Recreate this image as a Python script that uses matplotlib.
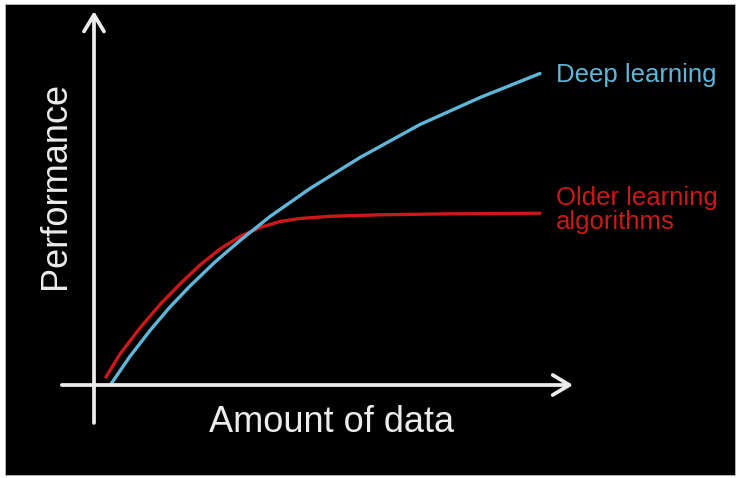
import matplotlib.pyplot as plt
from matplotlib.patches import Rectangle

plt.rcParams["font.family"] = ["Liberation Sans", "DejaVu Sans"]

# amount of data (x) vs performance (y)
deep_x = [0.354, 0.75, 1.167, 1.583, 2.0, 2.521, 3.042, 3.667, 4.5, 5.542,
          6.792, 8.042, 9.292]
deep_y = [0.027, 0.77, 1.465, 2.097, 2.661, 3.306, 3.884, 4.53, 5.282, 6.116,
          7.003, 7.728, 8.374]

older_x = [0.25, 0.542, 0.958, 1.375, 1.792, 2.208, 2.625, 3.042, 3.458, 3.875,
           4.292, 4.917, 5.958, 7.417, 9.292]
older_y = [0.215, 0.833, 1.532, 2.164, 2.715, 3.226, 3.656, 3.992, 4.234, 4.395,
           4.476, 4.535, 4.575, 4.602, 4.618]

labels = ["Deep learning", "Older learning\nalgorithms"]
x_title = "Amount of data"
y_title = "Performance"

blue = "#5fb6d8"
red = "#cc1818"
white = "#ececec"

fig = plt.figure(figsize=(7.41, 4.78), dpi=100, facecolor="white")
fig.patches.append(Rectangle((5 / 741, 3 / 478), 730 / 741, 471 / 478,
                             transform=fig.transFigure, facecolor="black",
                             edgecolor="#bbbbbb", linewidth=0.6, zorder=-10))

ax = fig.add_axes([94 / 741, 93 / 478, 480 / 741, 372 / 478])
ax.set_xlim(0, 10)
ax.set_ylim(0, 10)
ax.axis("off")

ax.plot(older_x, older_y, color=red, lw=2.4, solid_capstyle="round",
        solid_joinstyle="round", clip_on=False)
ax.plot(deep_x, deep_y, color=blue, lw=2.4, solid_capstyle="round",
        solid_joinstyle="round", clip_on=False)

arrow = dict(arrowstyle="->,head_length=0.6,head_width=0.36", color=white,
             lw=2.7, mutation_scale=20, shrinkA=0, shrinkB=0)
ax.annotate("", xy=(9.98, 0), xytext=(-0.67, 0), arrowprops=arrow,
            annotation_clip=False)
ax.annotate("", xy=(0, 10.05), xytext=(0, -1.02), arrowprops=arrow,
            annotation_clip=False)

ax.text(9.62, 8.145, labels[0], color=blue, fontsize=18.5,
        ha="left", va="baseline")
ax.text(9.62, 4.19, labels[1], color=red, fontsize=18.5,
        ha="left", va="baseline", linespacing=1.0)

ax.text(4.94, -1.02, x_title, color=white, fontsize=26, ha="center", va="center")
ax.text(-0.81, 5.35, y_title, color=white, fontsize=26, ha="center", va="center",
        rotation=90)

fig.savefig("out.png", dpi=100, facecolor="white")
